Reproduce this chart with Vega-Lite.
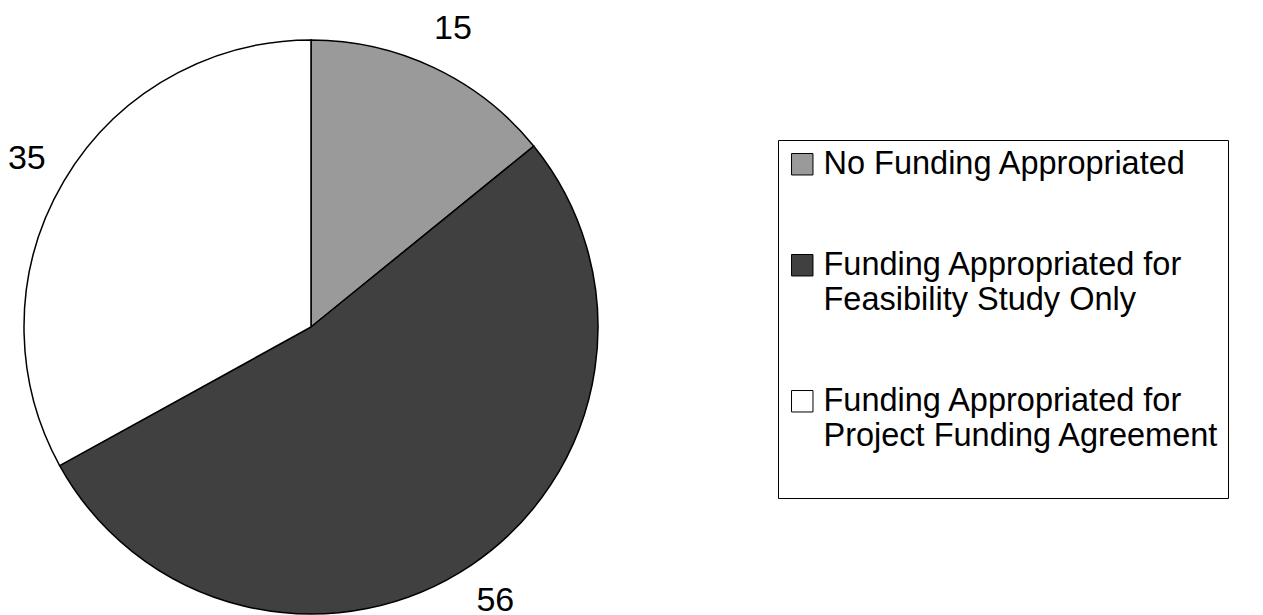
{
  "$schema": "https://vega.github.io/schema/vega-lite/v6.json",
  "autosize": "none",
  "width": 574,
  "height": 574,
  "padding": {"left": 24, "top": 40, "right": 665, "bottom": 1},
  "background": "white",
  "config": {"view": {"stroke": null}, "font": "Liberation Sans"},
  "data": {
    "values": [
      {"category": "No Funding Appropriated", "value": 15, "order": 1},
      {"category": "Funding Appropriated for|Feasibility Study Only", "value": 56, "order": 2},
      {"category": "Funding Appropriated for|Project Funding Agreement", "value": 35, "order": 3}
    ]
  },
  "encoding": {
    "theta": {"field": "value", "type": "quantitative", "stack": true},
    "order": {"field": "order", "type": "quantitative"}
  },
  "layer": [
    {
      "mark": {"type": "arc", "outerRadius": 287, "stroke": "black", "strokeWidth": 1.5},
      "encoding": {
        "color": {
          "field": "category",
          "type": "nominal",
          "sort": ["No Funding Appropriated", "Funding Appropriated for|Feasibility Study Only", "Funding Appropriated for|Project Funding Agreement"],
          "scale": {
            "domain": ["No Funding Appropriated", "Funding Appropriated for|Feasibility Study Only", "Funding Appropriated for|Project Funding Agreement"],
            "range": ["#9a9a9a", "#404040", "#ffffff"]
          },
          "legend": {
            "title": " ",
            "titleOrient": "bottom",
            "titleFontSize": 30,
            "titlePadding": 8,
            "orient": "none",
            "legendX": 754,
            "legendY": 100,
            "direction": "vertical",
            "strokeColor": "black",
            "fillColor": "white",
            "padding": 8,
            "symbolType": "square",
            "symbolSize": 460,
            "symbolStrokeColor": "black",
            "symbolStrokeWidth": 1,
            "symbolOpacity": 1,
            "labelFont": "Liberation Sans",
            "labelFontSize": 32.5,
            "labelColor": "black",
            "labelOffset": 5,
            "labelLimit": 500,
            "rowPadding": 68,
            "labelExpr": "split(datum.label, '|')"
          }
        }
      }
    },
    {
      "mark": {"type": "text", "radius": 330, "fontSize": 34, "font": "Liberation Sans", "color": "black"},
      "encoding": {
        "text": {"field": "value", "type": "quantitative"}
      }
    }
  ]
}
